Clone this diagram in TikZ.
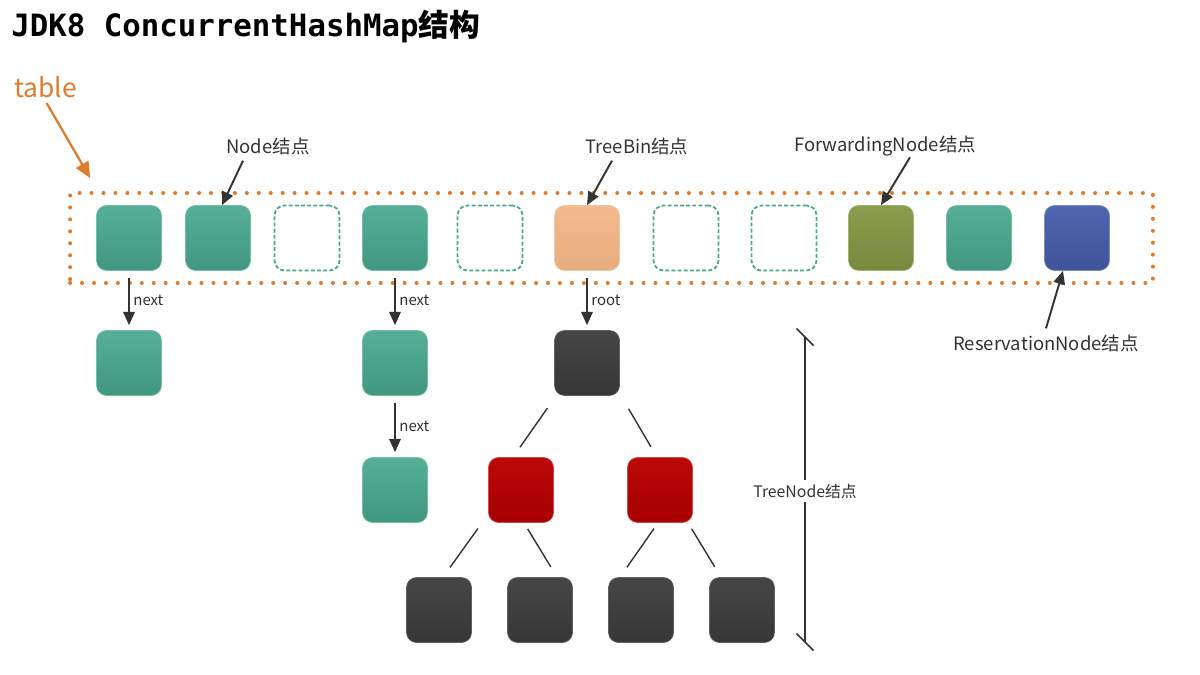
\documentclass[tikz,border=0pt]{standalone}
\usepackage{fontspec}
\setmainfont{Noto Sans CJK SC}
\newfontfamily\titlefont{DejaVu Sans Mono}
\usetikzlibrary{arrows.meta, positioning}
\definecolor{slotgreen}{RGB}{72,168,141}
\definecolor{binorange}{RGB}{241,180,132}
\definecolor{fwdolive}{RGB}{130,153,68}
\definecolor{resblue}{RGB}{70,93,170}
\definecolor{treedark}{RGB}{58,58,58}
\definecolor{treered}{RGB}{185,0,0}
\definecolor{tableorange}{RGB}{222,124,46}
\definecolor{labelgray}{RGB}{51,51,51}

\begin{document}
\begin{tikzpicture}[x=0.02cm, y=-0.02cm,
    slot/.style={rectangle, rounded corners=0.2cm, minimum width=1.3cm, minimum height=1.3cm, inner sep=0pt},
    greennode/.style={slot, top color=slotgreen!92!white, bottom color=slotgreen!90!black, draw=slotgreen!75!white, line width=0.4pt},
    emptynode/.style={slot, draw=slotgreen, line width=1pt, dash pattern=on 2.2pt off 1.3pt},
    treebin/.style={slot, top color=binorange!92!white, bottom color=binorange!96!black, draw=binorange!75!white, line width=0.4pt},
    fwdnode/.style={slot, top color=fwdolive!95!white, bottom color=fwdolive!90!black, draw=fwdolive!75!white, line width=0.4pt},
    resnode/.style={slot, top color=resblue!95!white, bottom color=resblue!90!black, draw=resblue!70!white, line width=0.4pt},
    blacknode/.style={slot, top color=treedark!94!white, bottom color=treedark!94!black, draw=treedark!80!white, line width=0.4pt},
    rednode/.style={slot, top color=treered!97!white, bottom color=treered!90!black, draw=treered!70!white, line width=0.4pt},
    nextarrow/.style={-{Triangle[length=7.5pt, width=6.5pt]}, draw=labelgray, line width=1pt, shorten <=0.14cm, shorten >=0.1cm},
    callout/.style={-{Triangle[length=7.5pt, width=6.5pt]}, draw=labelgray, line width=1.1pt},
    treeline/.style={draw=labelgray, line width=0.8pt, shorten >=0.24cm},
    caption/.style={font=\fontsize{10.5}{12}\selectfont, text=labelgray},
    nextlabel/.style={font=\fontsize{8.5}{10}\selectfont, text=labelgray, right, inner sep=2pt}
]
    \useasboundingbox[fill=white] (0,0) rectangle (1200,675);

    % title and table label
    \node[anchor=west, inner sep=0pt] (title) at (11,26) {\fontsize{17.5}{20}\selectfont{\titlefont\bfseries JDK8 ConcurrentHashMap}\bfseries 结构};
    \node[anchor=west, inner sep=0pt, font=\fontsize{15}{18}\selectfont, text=tableorange] (tablelbl) at (14,87) {table};
    \node[rectangle, minimum width=21.66cm, minimum height=1.8cm, draw=tableorange, line width=2.3pt, line cap=round, dash pattern=on 0pt off 6.8pt] (tablebox) at (611.5,238) {};
    \draw[-{Triangle[length=9pt, width=8pt]}, draw=tableorange, line width=1.3pt] ([xshift=0.02cm, yshift=-0.1cm]tablelbl.south) -- ([xshift=0.44cm, yshift=0.26cm]tablebox.north west);

    % table slots
    \node[greennode] (t1) at (129,238) {};
    \node[greennode] (t2) at (218,238) {};
    \node[emptynode] (t3) at (307,238) {};
    \node[greennode] (t4) at (395,238) {};
    \node[emptynode] (t5) at (490,238) {};
    \node[treebin] (t6) at (587,238) {};
    \node[emptynode] (t7) at (686,238) {};
    \node[emptynode] (t8) at (784,238) {};
    \node[fwdnode] (t9) at (881,238) {};
    \node[greennode] (t10) at (979,238) {};
    \node[resnode] (t11) at (1077,238) {};

    % captions above and below the table
    \node[caption] (nodelbl) at (268,146) {Node结点};
    \node[caption] (binlbl) at (637,146) {TreeBin结点};
    \node[caption] (fwdlbl) at (885,146) {ForwardingNode结点};
    \node[caption] (reslbl) at (1046,343) {ReservationNode结点};
    \draw[callout] ([xshift=-0.5cm]nodelbl.south) -- ([xshift=0.08cm]t2.north);
    \draw[callout] ([xshift=-0.5cm]binlbl.south) -- (t6.north);
    \draw[callout] ([xshift=0.5cm, yshift=0.1cm]fwdlbl.south) -- (t9.north);
    \draw[callout] (reslbl.north) -- ([xshift=-0.28cm]t11.south);

    % linked lists
    \node[greennode] (n1) at (129,363) {};
    \node[greennode] (n4) at (395,363) {};
    \node[greennode] (n4b) at (395,490) {};
    \draw[nextarrow] (t1.south) -- node[nextlabel] {next} (n1.north);
    \draw[nextarrow] (t4.south) -- node[nextlabel] {next} (n4.north);
    \draw[nextarrow] (n4.south) -- node[nextlabel] {next} (n4b.north);

    % red-black tree
    \node[blacknode] (root) at (587,363) {};
    \node[rednode] (red1) at (521,490) {};
    \node[rednode] (red2) at (660,490) {};
    \node[blacknode] (leaf1) at (439,610) {};
    \node[blacknode] (leaf2) at (540,610) {};
    \node[blacknode] (leaf3) at (641,610) {};
    \node[blacknode] (leaf4) at (742,610) {};
    \draw[nextarrow] (t6.south) -- node[nextlabel] {root} (root.north);
    \draw[treeline, shorten <=0.3cm] ([xshift=-0.62cm]root.south) -- ([xshift=-0.16cm]red1.north);
    \draw[treeline, shorten <=0.3cm] ([xshift=0.68cm]root.south) -- ([xshift=-0.06cm]red2.north);
    \draw[treeline, shorten <=0.14cm] ([xshift=-0.78cm]red1.south) -- ([xshift=0.08cm]leaf1.north);
    \draw[treeline, shorten <=0.14cm] ([xshift=0.06cm]red1.south) -- ([xshift=0.34cm]leaf2.north);
    \draw[treeline, shorten <=0.14cm] ([xshift=-0.04cm]red2.south) -- ([xshift=-0.42cm]leaf3.north);
    \draw[treeline, shorten <=0.14cm] ([xshift=0.56cm]red2.south) -- ([xshift=-0.42cm]leaf4.north);

    % TreeNode span
    \coordinate (spantop) at (805,337);
    \coordinate (spanbot) at (805,642);
    \node[font=\fontsize{9}{11}\selectfont, text=labelgray, fill=white, inner sep=2pt] (spanlbl) at (805,491) {TreeNode结点};
    \draw[labelgray, line width=0.9pt] (spantop) -- (spanlbl.north);
    \draw[labelgray, line width=0.9pt] (spanlbl.south) -- (spanbot);
    \draw[labelgray, line width=0.9pt] ([xshift=-0.17cm, yshift=0.17cm]spantop) -- ([xshift=0.17cm, yshift=-0.17cm]spantop);
    \draw[labelgray, line width=0.9pt] ([xshift=-0.17cm, yshift=0.17cm]spanbot) -- ([xshift=0.17cm, yshift=-0.17cm]spanbot);
\end{tikzpicture}
\end{document}
